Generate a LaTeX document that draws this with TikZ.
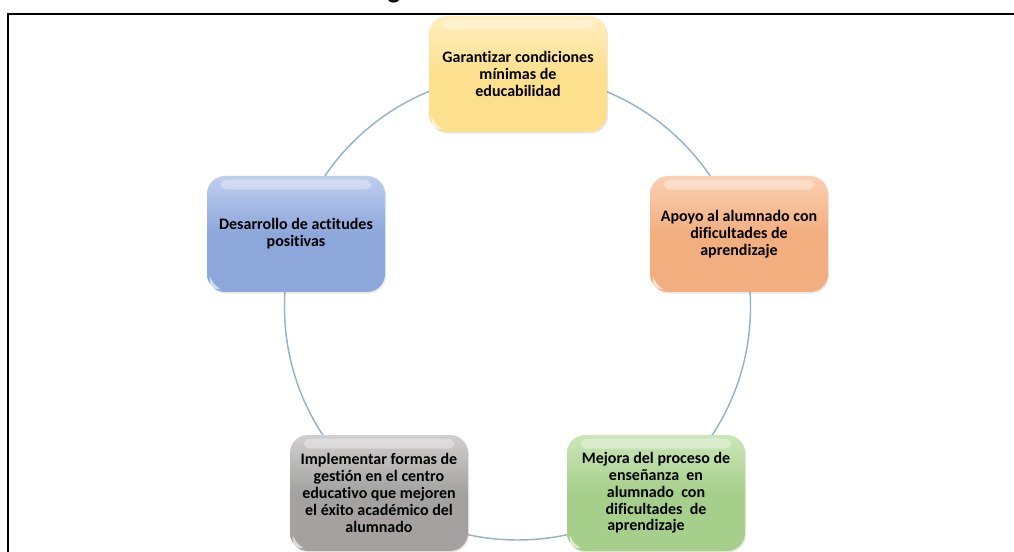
\documentclass[tikz,border=0pt]{standalone}
\usepackage{fontspec}
\setmainfont{Carlito}[Ligatures=NoCommon]
\usetikzlibrary{calc,shadows}
\definecolor{cyel}{RGB}{252,224,142}
\definecolor{cyelT}{RGB}{255,238,190}
\definecolor{cora}{RGB}{243,174,128}
\definecolor{coraT}{RGB}{250,208,178}
\definecolor{cblu}{RGB}{141,167,219}
\definecolor{cbluT}{RGB}{190,206,238}
\definecolor{cgry}{RGB}{165,161,161}
\definecolor{cgryT}{RGB}{208,206,206}
\definecolor{cgrn}{RGB}{166,207,139}
\definecolor{cgrnT}{RGB}{204,230,186}
\definecolor{circc}{RGB}{150,178,200}
\begin{document}
\begin{tikzpicture}[x=0.75pt,y=-0.75pt,
  box/.style={rounded corners=13.5pt, minimum width=133.5pt, minimum height=87pt,
    inner sep=0pt, align=center, font=\fontsize{12}{12.6}\selectfont\bfseries,
    drop shadow={opacity=0.18, shadow xshift=0.8pt, shadow yshift=-1.2pt}},
  circ/.style={draw=circc, line width=1.1pt},
  framestyle/.style={draw=black, line width=1.6pt},
  gloss/.style={white, opacity=0.35, rounded corners=5pt},
  corner/.style={white, opacity=0.6}]
\useasboundingbox (0,0) rectangle (1014,552);
% partial title (cut off at top, as in the reference)
\node[font=\fontsize{20}{20}\selectfont\bfseries, anchor=base, inner sep=0pt] (ttl) at (394,-1) {g};
% frame
\draw[framestyle] (1030,14) -- (8,14) -- (8,570);
% cycle
\coordinate (ctr) at (517.5,307);
\draw[circ] (ctr) circle[radius=174.75pt];
% nodes
\node[box, top color=cyelT, bottom color=cyel, middle color=cyel] (n1) at (518,74)
  {Garantizar condiciones\\mínimas de\\educabilidad};
\node[box, top color=coraT, bottom color=cora, middle color=cora] (n2) at (739,234)
  {Apoyo al alumnado con\\dificultades de\\aprendizaje};
\node[box, top color=cgrnT, bottom color=cgrn, middle color=cgrn] (n3) at (656,493)
  {Mejora del proceso de\\enseñanza~ en\\alumnado~ con\\dificultades~ de\\aprendizaje\hspace*{15pt}};
\node[box, top color=cgryT, bottom color=cgry, middle color=cgry] (n4) at (379,493)
  {Implementar formas de\\gestión en el centro\\educativo que mejoren\\el éxito académico del\\alumnado};
\node[box, top color=cbluT, bottom color=cblu, middle color=cblu] (n5) at (296,234)
  {Desarrollo de actitudes\\positivas};
% gloss highlights
\foreach \n in {n1,n2,n3,n4,n5}{
  \fill[gloss] ($(\n.north west)+(14,4)$) rectangle ($(\n.north east)+(-14,14)$);
  \fill[corner] ($(\n.south west)+(3,-16)$) .. controls ($(\n.south west)+(3,-4)$) .. ($(\n.south west)+(14,-3)$)
     .. controls ($(\n.south west)+(7,-8)$) .. cycle;
}
\end{tikzpicture}
\end{document}
